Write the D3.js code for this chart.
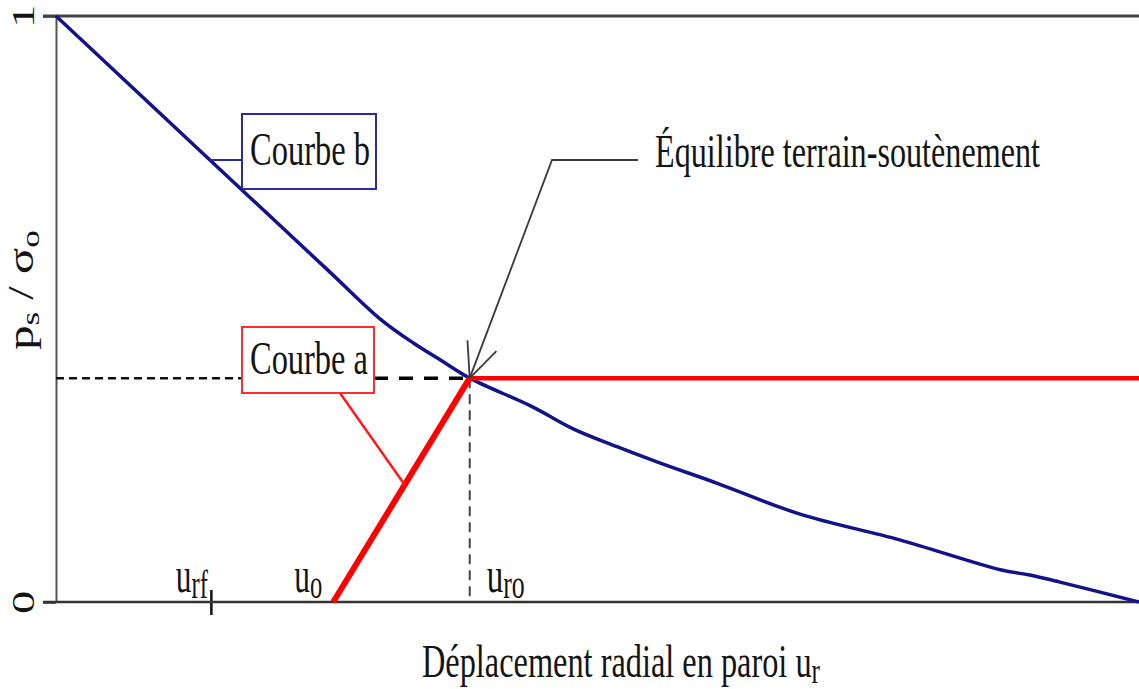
<!DOCTYPE html>
<html>
<head>
<meta charset="utf-8">
<script src="https://cdn.jsdelivr.net/npm/d3@7"></script>
<style>
  body { margin: 0; background: #fff; }
  svg { display: block; }
  text { font-family: "Liberation Serif", "Times New Roman", serif; fill: #141414; }
</style>
</head>
<body>
<svg id="chart" width="1139" height="689"></svg>
<script>
// Normalised wall displacement (x) and support pressure p_s / sigma_0 (y)
const xDomain = [0, 1];
const yTicks = [0, 1];
const yTickLabels = ["0", "1"];

// Characteristic displacements marked on the horizontal axis
const markSubs = ["rf", "o", "ro"];
const markValues = [0.143, 0.256, 0.382];

// Courbe b : ground reaction curve
const curveBx = [0, 0.25, 0.300, 0.330, 0.355, 0.382, 0.440, 0.477, 0.518, 0.558, 0.610, 0.687, 0.779, 0.872, 0.899, 0.927, 1];
const curveBy = [1, 0.568, 0.482, 0.442, 0.413, 0.382, 0.333, 0.296, 0.265, 0.237, 0.203, 0.150, 0.106, 0.055, 0.046, 0.034, 0];

// Courbe a : support confinement curve (starts at u_o, yields at equilibrium)
const curveAx = [0.256, 0.382, 1];
const curveAy = [0, 0.382, 0.382];

// Equilibrium point
const eqX = 0.382, eqY = 0.382;

const svg = d3.select("#chart");
const x = d3.scaleLinear().domain(xDomain).range([56, 1139]);
const y = d3.scaleLinear().domain([0, 1]).range([602, 16]);

// Horizontally condensed serif text
function label(g, px, py, parts, size, len, anchor) {
  const t = g.append("text")
    .attr("x", px).attr("y", py)
    .attr("font-size", size)
    .attr("text-anchor", anchor || "start");
  parts.forEach(p => {
    const s = t.append("tspan").text(p.t);
    if (p.sub) s.attr("font-size", size * 0.78).attr("dy", size * 0.12);
  });
  if (len) t.attr("textLength", len).attr("lengthAdjust", "spacingAndGlyphs");
  return t;
}

// ---- Axes ----
const yAxis = d3.axisLeft(y).tickValues(yTicks).tickSizeInner(13).tickSizeOuter(0)
  .tickFormat((d, i) => yTickLabels[i]);
const gy = svg.append("g").attr("transform", `translate(${x(0)},0)`).call(yAxis);
gy.select(".domain").attr("stroke", "#555").attr("stroke-width", 2);
gy.selectAll(".tick line").attr("stroke", "#333").attr("stroke-width", 2.5);
gy.selectAll(".tick text")
  .attr("font-family", "Liberation Serif, serif")
  .attr("font-size", 32).attr("fill", "#222")
  .attr("x", 0).attr("y", 0).attr("dy", 0)
  .attr("text-anchor", "middle")
  .attr("transform", "translate(-33,0) rotate(-90) scale(1.45,1) translate(0,11)");

// Top reference line at p_s / sigma_0 = 1
svg.append("line")
  .attr("x1", x(0) - 13).attr("x2", x(1)).attr("y1", y(1)).attr("y2", y(1))
  .attr("stroke", "#444").attr("stroke-width", 3);

// Horizontal axis with the u_rf tick
const xAxis = d3.axisBottom(x).tickValues([markValues[0]]).tickSizeInner(13).tickSizeOuter(0).tickFormat("");
const gx = svg.append("g").attr("transform", `translate(0,${y(0)})`).call(xAxis);
gx.select(".domain").remove();
gx.selectAll(".tick line").attr("y1", -12).attr("stroke", "#111").attr("stroke-width", 2.5);
svg.append("line")
  .attr("x1", x(0) - 13).attr("x2", x(1)).attr("y1", y(0)).attr("y2", y(0))
  .attr("stroke", "#333").attr("stroke-width", 2.5);

// Displacement labels u_rf, u_o, u_ro
const markPos = [
  { dx: -3, anchor: "end", len: 32 },
  { dx: -11, anchor: "end", len: 28 },
  { dx: 17, anchor: "start", len: 38 }
];
markValues.forEach((v, i) => {
  label(svg, x(v) + markPos[i].dx, 592, [{ t: "u" }, { t: markSubs[i], sub: true }], 50, markPos[i].len, markPos[i].anchor);
});

// Axis titles
label(svg, 422, 677, [{ t: "Déplacement radial en paroi u" }, { t: "r", sub: true }], 46, 398);
const yt = svg.append("text")
  .attr("font-size", 36).attr("text-anchor", "middle")
  .attr("transform", `translate(33,${290}) rotate(-90) scale(1.35,1)`);
yt.append("tspan").text("p");
yt.append("tspan").text("s").attr("font-size", 26).attr("dy", 6);
yt.append("tspan").text(" / σ").attr("dy", -6);
yt.append("tspan").text("o").attr("font-size", 26).attr("dy", 6);

// ---- Guide lines at the equilibrium point ----
svg.append("line")
  .attr("x1", x(0)).attr("x2", 245).attr("y1", y(eqY)).attr("y2", y(eqY))
  .attr("stroke", "#111").attr("stroke-width", 2.5).attr("stroke-dasharray", "8,5");
svg.append("line")
  .attr("x1", 374).attr("x2", x(eqX)).attr("y1", y(eqY)).attr("y2", y(eqY))
  .attr("stroke", "#000").attr("stroke-width", 3.5).attr("stroke-dasharray", "14,11");
svg.append("line")
  .attr("x1", x(eqX)).attr("x2", x(eqX)).attr("y1", y(eqY)).attr("y2", y(0))
  .attr("stroke", "#444").attr("stroke-width", 2).attr("stroke-dasharray", "10,6");

// ---- Curves ----
const line = d3.line().x(d => x(d[0])).y(d => y(d[1]));
const smooth = d3.line().x(d => x(d[0])).y(d => y(d[1])).curve(d3.curveCatmullRom.alpha(0.5));
const bPts = curveBx.map((v, i) => [v, curveBy[i]]);
svg.append("path").datum(bPts).attr("d", smooth)
  .attr("fill", "none").attr("stroke", "#12128a").attr("stroke-width", 3.5)
  .attr("stroke-linejoin", "round");

// Courbe a: elastic branch (thick) then plateau
const aPts = curveAx.map((v, i) => [v, curveAy[i]]);
svg.append("path").datum(aPts.slice(0, 2)).attr("d", line)
  .attr("fill", "none").attr("stroke", "#ff0000").attr("stroke-width", 6);
svg.append("path").datum(aPts.slice(1)).attr("d", line)
  .attr("fill", "none").attr("stroke", "#ff0000").attr("stroke-width", 4.5);

// ---- Callouts ----
// Courbe b
const bLeadY = 160;
const bLeadV = y.invert(bLeadY);
const bLeadX = d3.scaleLinear().domain([curveBy[0], curveBy[1]]).range([curveBx[0], curveBx[1]])(bLeadV);
svg.append("line")
  .attr("x1", x(bLeadX)).attr("x2", 242).attr("y1", bLeadY).attr("y2", bLeadY)
  .attr("stroke", "#2a2aa8").attr("stroke-width", 2);
svg.append("rect").attr("x", 242).attr("y", 114).attr("width", 134).attr("height", 75)
  .attr("fill", "#fff").attr("stroke", "#2a2aa8").attr("stroke-width", 2);
label(svg, 250, 165, [{ t: "Courbe b" }], 47, 120);

// Courbe a
const aLeadV = 0.2;
const aLeadX = d3.scaleLinear().domain([curveAy[0], curveAy[1]]).range([curveAx[0], curveAx[1]])(aLeadV);
svg.append("line")
  .attr("x1", 340).attr("y1", 393).attr("x2", x(aLeadX)).attr("y2", y(aLeadV))
  .attr("stroke", "#ff1a1a").attr("stroke-width", 2.5);
svg.append("rect").attr("x", 242).attr("y", 327).attr("width", 132).attr("height", 66)
  .attr("fill", "#fff").attr("stroke", "#ff2a2a").attr("stroke-width", 2);
label(svg, 250, 374, [{ t: "Courbe a" }], 47, 118);

// Equilibrium arrow
const tip = [x(eqX), y(eqY)];
const corner = [552, 160];
svg.append("polyline")
  .attr("points", [tip, corner, [638, 160]].map(p => p.join(",")).join(" "))
  .attr("fill", "none").attr("stroke", "#3a3a3a").attr("stroke-width", 1.8);
const ang = Math.atan2(corner[1] - tip[1], corner[0] - tip[0]);
[-0.42, 0.42].forEach(da => {
  svg.append("line")
    .attr("x1", tip[0]).attr("y1", tip[1])
    .attr("x2", tip[0] + 38 * Math.cos(ang + da)).attr("y2", tip[1] + 38 * Math.sin(ang + da))
    .attr("stroke", "#3a3a3a").attr("stroke-width", 1.8);
});
label(svg, 655, 167, [{ t: "Équilibre terrain-soutènement" }], 46, 385);
</script>
</body>
</html>
